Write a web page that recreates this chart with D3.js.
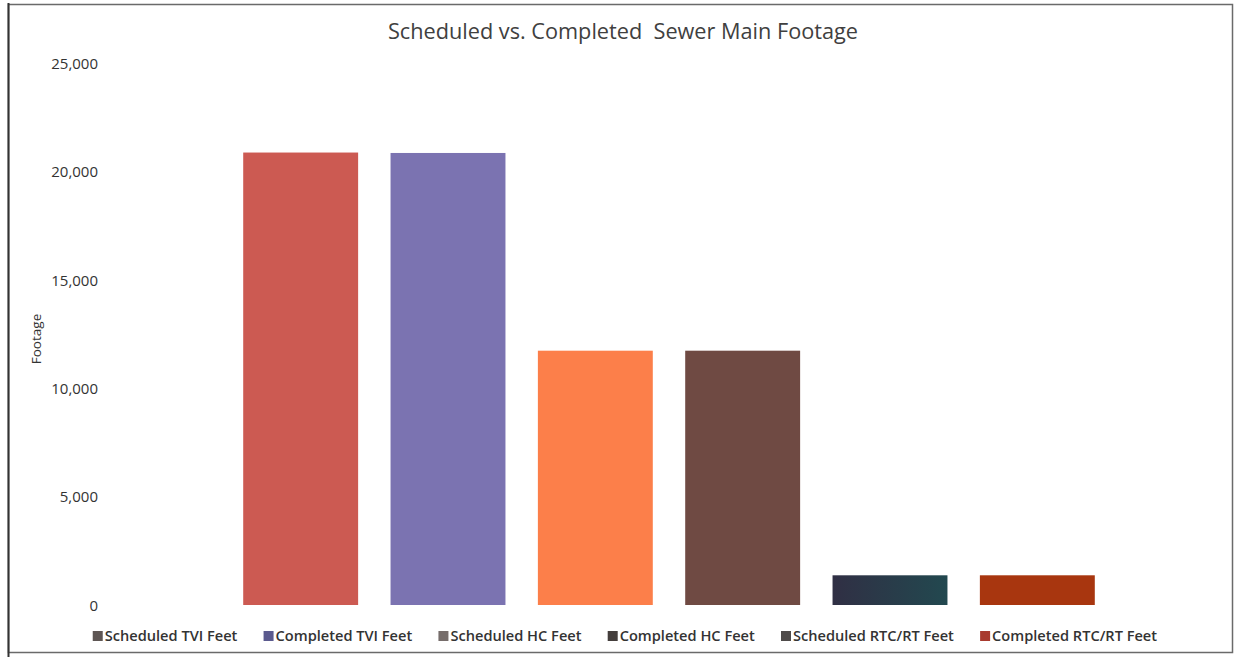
<!DOCTYPE html>
<html>
<head>
<meta charset="utf-8">
<script src="https://cdn.jsdelivr.net/npm/d3@7"></script>
<style>
  html, body { margin: 0; padding: 0; background: #fff; }
  svg { display: block; }
</style>
</head>
<body>
<svg id="chart" width="1235" height="657"></svg>
<script>
// Sewer main footage, scheduled vs. completed, by work type
const seriesNames = [
  "Scheduled TVI Feet",
  "Completed TVI Feet",
  "Scheduled HC Feet",
  "Completed HC Feet",
  "Scheduled RTC/RT Feet",
  "Completed RTC/RT Feet"
];
const footage = [20870, 20850, 11730, 11730, 1370, 1370];
const yTicks = [0, 5000, 10000, 15000, 20000, 25000];

// Fill colours for the bars and for the legend keys
const barColors = ["#cc5a52", "#7b73b1", "#fc7f4a", "#6f4a43", "url(#darkBar)", "#a8360f"];
const keyColors = ["#5e5654", "#5b5a8e", "#766d6b", "#443e3c", "#4f4b4a", "#a83a2e"];

const svg = d3.select("#chart");

// gradient for the dark navy/teal bar
const defs = svg.append("defs");
const grad = defs.append("linearGradient").attr("id", "darkBar")
  .attr("x1", "0%").attr("x2", "100%").attr("y1", "0%").attr("y2", "0%");
grad.append("stop").attr("offset", "0%").attr("stop-color", "#302f44");
grad.append("stop").attr("offset", "100%").attr("stop-color", "#22484f");

// outer frame
svg.append("rect")
  .attr("x", 8.5).attr("y", 4.5).attr("width", 1224).attr("height", 648)
  .attr("fill", "#fff").attr("stroke", "#6a6a6a").attr("stroke-width", 1.5);
svg.append("line")
  .attr("x1", 8.5).attr("x2", 8.5).attr("y1", 3).attr("y2", 657)
  .attr("stroke", "#333").attr("stroke-width", 2);

const y = d3.scaleLinear().domain([0, 25000]).range([605, 63]);
const x = d3.scaleBand().domain(seriesNames).range([227, 1111])
  .paddingInner(0.22).paddingOuter(0.11);

// title
svg.append("text")
  .attr("x", 623).attr("y", 38.5)
  .attr("text-anchor", "middle")
  .attr("font-family", "Open Sans, sans-serif")
  .attr("font-size", 21.7)
  .attr("fill", "#404040")
  .attr("xml:space", "preserve")
  .style("white-space", "pre")
  .text("Scheduled vs. Completed  Sewer Main Footage");

// y axis (labels only, no line or gridlines)
const yAxis = d3.axisLeft(y).tickValues(yTicks).tickSize(0).tickPadding(0)
  .tickFormat(d3.format(","));
const gy = svg.append("g").attr("transform", "translate(98,0)").call(yAxis);
gy.select(".domain").remove();
gy.selectAll("text")
  .attr("font-family", "Open Sans, sans-serif")
  .attr("font-size", 15)
  .attr("fill", "#333")
  .attr("dy", "0.35em");

// axis title
svg.append("text")
  .attr("transform", "translate(41,339) rotate(-90)")
  .attr("text-anchor", "middle")
  .attr("font-family", "Open Sans, sans-serif")
  .attr("font-size", 13.5)
  .attr("fill", "#333")
  .text("Footage");

// bars
svg.append("g").selectAll("rect")
  .data(seriesNames)
  .join("rect")
  .attr("x", d => x(d))
  .attr("width", x.bandwidth())
  .attr("y", (d, i) => y(footage[i]))
  .attr("height", (d, i) => y(0) - y(footage[i]))
  .attr("fill", (d, i) => barColors[i]);

// legend
const legend = svg.append("g");
const items = legend.selectAll("g").data(seriesNames).join("g");
items.append("rect")
  .attr("width", 10).attr("height", 10).attr("y", -5)
  .attr("fill", (d, i) => keyColors[i]);
items.append("text")
  .attr("x", 12).attr("dy", "0.35em")
  .attr("font-family", "Open Sans, sans-serif")
  .attr("font-size", 14.6)
  .attr("font-weight", 600)
  .attr("fill", "#333")
  .text(d => d);
const gap = 26;
let cursor = 0;
const offsets = [];
items.each(function () {
  offsets.push(cursor);
  cursor += this.getBBox().width + gap;
});
const total = cursor - gap;
const startX = 625 - total / 2;
items.attr("transform", (d, i) => `translate(${startX + offsets[i]},636)`);
</script>
</body>
</html>
